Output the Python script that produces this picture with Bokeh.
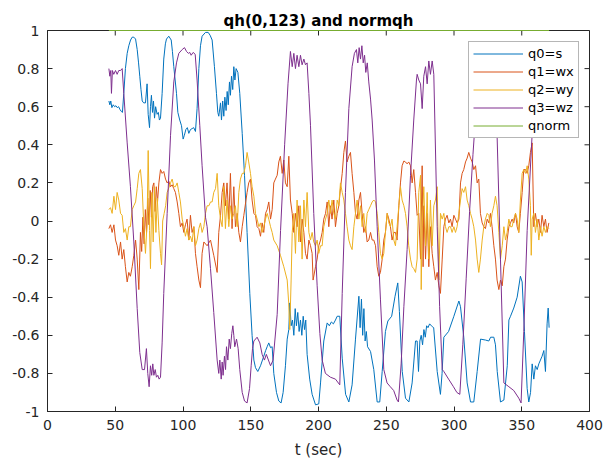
from bokeh.plotting import figure
from bokeh.models import FixedTicker, Range1d, Legend, LegendItem
from bokeh.embed import file_html
from bokeh.resources import INLINE

# ---------------- data ----------------
q0_t = [45.3, 46.0, 46.7, 47.5, 48.5, 49.5, 50.5, 51.5, 52.5, 53.5, 54.5, 55.3, 56.3, 57.5, 58.8, 60.0,
        61.3, 62.5, 63.7, 65.0, 66.2, 67.2, 68.1, 69.0, 69.9, 71.0, 72.3, 73.5, 74.3, 75.3, 76.0, 76.7,
        77.5, 78.2, 79.0, 79.8, 80.9, 81.8, 82.6, 83.4, 84.6, 85.8, 87.0, 87.8, 89.5, 91.3, 92.2, 93.2,
        94.2, 95.2, 96.2, 97.6, 98.9, 100.1, 101.0, 102.1, 103.2, 104.3, 105.5, 106.7, 107.9, 109.2,
        110.4, 111.7, 112.9, 114.1, 116.6, 118.6, 120.0, 121.5, 123.2, 124.7, 125.7, 126.4, 127.7,
        128.4, 129.3, 130.1, 130.9, 131.8, 132.6, 133.4, 134.3, 135.0, 135.8, 136.7, 137.5, 138.3,
        139.2, 140.5, 141.9, 143.7, 145.4, 147.3, 149.3, 151.0, 152.3, 153.5, 155.2, 157.2, 159.6,
        161.0, 162.1, 163.3, 164.6, 165.8, 167.0, 169.0, 170.7, 172.4, 173.9, 175.6, 176.9, 178.1,
        178.8, 179.8, 180.8, 181.8, 182.8, 183.7, 184.7, 185.7, 186.7, 187.7, 188.7, 189.7, 190.6,
        191.6, 193.5, 195.3, 197.8, 200.2, 201.5, 203.9, 206.4, 208.0, 209.5, 211.0, 212.5, 213.8,
        215.7, 217.5, 220.0, 222.4, 224.8, 227.3, 229.8, 230.7, 231.7, 232.6, 233.5, 234.4, 235.3,
        236.2, 238.4, 240.8, 243.3, 245.2, 247.0, 249.4, 251.2, 254.0, 256.5, 258.5, 259.7, 261.8,
        264.2, 266.7, 269.1, 271.6, 272.8, 273.8, 274.8, 275.8, 276.8, 277.8, 278.8, 279.8, 280.8,
        282.0, 284.0, 285.0, 287.6, 290.0, 291.2, 292.5, 296.0, 299.9, 303.6, 304.8, 307.2, 309.7,
        312.2, 314.6, 317.1, 319.6, 323.3, 325.7, 327.0, 329.4, 330.6, 331.9, 334.3, 336.8, 339.3,
        340.5, 341.7, 344.1, 346.6, 349.0, 350.3, 352.0, 354.0, 355.2, 356.5, 357.7, 358.9, 360.1,
        361.4, 362.6, 363.8, 365.0, 366.3, 367.5, 368.7, 369.5, 370.2]
q0 = [0.63, 0.61, 0.63, 0.595, 0.61, 0.60, 0.605, 0.595, 0.60, 0.585, 0.575, 0.57, 0.67, 0.80, 0.88, 0.92,
      0.95, 0.965, 0.965, 0.955, 0.90, 0.83, 0.76, 0.69, 0.63, 0.62, 0.62, 0.72, 0.56, 0.49, 0.60, 0.66,
      0.57, 0.63, 0.54, 0.60, 0.56, 0.57, 0.53, 0.54, 0.67, 0.85, 0.93, 0.955, 0.97, 0.95, 0.89, 0.81,
      0.74, 0.67, 0.57, 0.53, 0.50, 0.43, 0.45, 0.48, 0.49, 0.46, 0.48, 0.485, 0.49, 0.47,
      0.59, 0.80, 0.92, 0.97, 0.99, 0.99, 0.975, 0.95, 0.81, 0.67, 0.57, 0.55, 0.62,
      0.53, 0.63, 0.55, 0.65, 0.58, 0.68, 0.61, 0.73, 0.66, 0.76, 0.69, 0.81, 0.74,
      0.80, 0.78, 0.67, 0.46, 0.24, -0.06, -0.38, -0.60, -0.73, -0.77, -0.79, -0.76, -0.71,
      -0.68, -0.66, -0.64, -0.665, -0.66, -0.80, -0.90, -0.945, -0.955, -0.90, -0.76, -0.62, -0.57,
      -0.43, -0.55, -0.52, -0.60, -0.46, -0.55, -0.48, -0.58, -0.52, -0.60, -0.50, -0.57, -0.52,
      -0.70, -0.83, -0.91, -0.965, -0.96, -0.85, -0.63, -0.535, -0.55, -0.53, -0.54, -0.52, -0.50,
      -0.50, -0.72, -0.91, -0.95, -0.86, -0.62, -0.395, -0.56, -0.41, -0.60, -0.46, -0.63, -0.58,
      -0.66, -0.685, -0.78, -0.95, -0.95, -0.79, -0.58, -0.525, -0.50, -0.395, -0.325, -0.475, -0.79,
      -0.93, -0.95, -0.85, -0.63, -0.63, -0.79, -0.63, -0.60, -0.65, -0.57, -0.61, -0.55, -0.56,
      -0.54, -0.555, -0.56, -0.79, -0.91, -0.80, -0.61, -0.58, -0.50, -0.42, -0.45, -0.61, -0.85,
      -0.95, -0.95, -0.79, -0.62, -0.625, -0.63, -0.61, -0.61, -0.65, -0.79, -0.95, -0.94, -0.76,
      -0.52, -0.50, -0.457, -0.40, -0.29, -0.32, -0.58, -0.88, -0.95, -0.90, -0.75, -0.83, -0.76,
      -0.78, -0.75, -0.73, -0.71, -0.68, -0.79, -0.54, -0.457, -0.56]

q1_t = [45.3, 46.5, 47.7, 49.0, 50.2, 51.4, 52.6, 53.9, 55.1, 56.3, 57.5, 58.8, 60.0, 61.2, 62.5, 63.7,
        65.0, 66.2, 67.4, 68.6, 69.5, 70.4, 71.3, 72.2, 73.1, 74.0, 74.9, 75.8, 76.7, 77.6, 78.5, 79.4,
        80.3, 81.2, 82.2, 83.4, 84.6, 85.8, 87.1, 88.3, 89.5, 90.8, 92.0, 93.2, 94.4, 95.7, 96.9, 98.1,
        99.4, 100.6, 101.8, 103.0, 104.3, 105.5, 106.7, 108.0, 109.2, 110.4, 111.7, 112.9, 114.1,
        115.4, 117.8, 120.3, 122.7, 125.2, 126.4, 127.7, 128.9, 130.1, 131.3, 132.5, 133.8, 135.0,
        136.2, 137.5, 138.7, 140.0, 141.2, 142.4, 143.7, 144.9, 147.3, 148.5, 149.8, 151.0, 152.3,
        153.5, 154.7, 156.0, 157.2, 158.4, 159.6, 160.9, 162.1, 163.3, 164.6, 165.8, 167.0, 168.2,
        169.5, 170.7, 171.9, 173.2, 174.4, 175.6, 176.9, 178.1, 179.3, 180.6, 181.8, 183.0, 184.2,
        185.5, 186.7, 187.9, 189.2, 190.4, 191.6, 192.9, 194.1, 195.3, 196.0, 197.8, 199.0, 200.2,
        201.5, 202.7, 203.9, 205.2, 206.4, 207.6, 208.8, 210.0, 211.3, 212.5, 213.8, 215.0, 216.2,
        217.5, 218.7, 219.9, 221.1, 222.4, 223.6, 224.8, 226.1, 227.3, 228.5, 229.8, 231.0, 232.2,
        233.4, 234.7, 235.9, 237.1, 238.4, 239.6, 240.8, 242.1, 243.3, 244.5, 245.7, 247.0, 248.2,
        249.4, 250.7, 251.9, 253.1, 254.3, 255.6, 256.8, 258.0, 259.3, 260.5, 261.7, 263.0, 264.2,
        265.4, 266.6, 267.9, 269.1, 270.3, 271.6, 272.8, 274.0, 275.3, 276.5, 277.2, 277.7, 279.0,
        280.2, 281.4, 282.6, 283.9, 285.1, 286.3, 287.6, 288.8, 290.0, 291.3, 292.5, 293.7, 294.9,
        296.2, 297.4, 298.6, 299.9, 301.1, 302.3, 303.6, 304.8, 306.0, 307.2, 308.5, 309.7, 310.9,
        312.2, 313.4, 314.6, 315.9, 317.1, 318.3, 319.5, 320.8, 322.0, 323.2, 324.5, 325.7, 326.9,
        328.1, 329.4, 330.6, 331.8, 333.1, 334.3, 335.6, 336.8, 338.0, 339.2, 340.5, 341.7, 342.9,
        344.1, 345.4, 346.6, 347.8, 349.0, 350.3, 351.5, 352.8, 354.0, 355.2, 356.4, 357.7, 358.9,
        360.1, 361.4, 362.6, 363.8, 365.0, 366.3, 367.5, 368.7, 370.0]
q1 = [-0.04, -0.02, -0.06, -0.02, -0.10, -0.13, -0.18, -0.11, -0.20, -0.15, -0.24, -0.32, -0.27, -0.29, -0.24, -0.18,
      -0.10, -0.20, -0.36, -0.06, -0.16, 0.02, -0.12, 0.06, -0.06, 0.12, -0.02, 0.16, 0.02, 0.18, 0.20, 0.05,
      0.18, 0.10, 0.20, 0.27, 0.25, 0.26, 0.22, 0.20, 0.21, 0.18, 0.19, 0.17, 0.15, 0.10, 0.04, -0.03,
      -0.01, -0.06, -0.02, 0.01, -0.10, 0.03, -0.06, -0.03, -0.17, -0.24, -0.31, -0.35, -0.17,
      -0.11, -0.13, -0.10, -0.18, -0.27, -0.06, 0.03, 0.15, 0.20, 0.08, 0.20, 0.01, 0.25,
      -0.04, 0.18, -0.03, 0.04, -0.06, -0.11, -0.03, 0.03, 0.15, 0.20, 0.22, 0.11, 0.04,
      0.03, -0.03, -0.04, -0.08, -0.01, -0.06, 0.04, 0.06, 0.10, 0.01, 0.06, 0.20, 0.22,
      0.24, 0.31, 0.34, 0.25, 0.32, 0.20, 0.18, 0.34, 0.11, 0.04, -0.06, 0.04, -0.03,
      0.08, -0.11, 0.01, -0.06, -0.17, -0.20, -0.10, -0.13, -0.17, -0.31, -0.24, -0.20, -0.13,
      -0.10, -0.06, 0.01, 0.04, 0.10, -0.03, 0.08, 0.01, 0.11, -0.03, 0.04, 0.08, 0.17,
      0.25, 0.36, 0.42, 0.31, 0.34, 0.36, 0.25, 0.15, 0.04, 0.01, 0.11, 0.15, 0.04,
      -0.06, -0.03, -0.11, -0.10, -0.06, -0.10, -0.10, -0.13, -0.24, -0.29, -0.27, -0.20, -0.10,
      -0.06, 0.04, 0.01, -0.03, -0.10, -0.06, -0.06, -0.10, 0.08, 0.20, 0.29, 0.315, 0.31,
      0.30, 0.31, 0.29, 0.20, 0.27, 0.15, 0.03, 0.04, -0.20, 0.29, -0.24, 0.08, -0.20,
      0.04, -0.24, -0.03, -0.17, -0.24, -0.31, -0.27, -0.34, -0.38, -0.20, -0.03, 0.01, 0.03,
      -0.01, 0.01, -0.03, 0.03, 0.01, -0.01, 0.01, 0.20, 0.25, 0.27, 0.31, 0.33, 0.36,
      0.33, 0.31, 0.27, 0.29, 0.20, 0.22, 0.04, -0.01, -0.03, -0.04, 0.01, -0.01, 0.04,
      -0.03, -0.13, -0.20, -0.31, -0.36, -0.31, -0.34, -0.24, -0.20, -0.10, -0.03, -0.01, 0.01,
      -0.01, 0.04, -0.03, -0.06, 0.04, 0.15, 0.27, 0.27, 0.25, 0.29, 0.36, 0.41, -0.03,
      0.04, -0.03, 0.01, -0.06, 0.03, -0.03, 0.01, -0.06, -0.01]

q2_t = [45.3, 46.5, 47.7, 49.0, 50.2, 51.4, 52.6, 53.9, 55.1, 56.3, 57.5, 58.8, 60.0, 61.2, 62.5, 63.7,
        65.0, 66.2, 67.4, 68.6, 69.9, 71.1, 72.3, 73.5, 74.3, 75.3, 76.0, 77.0, 78.0, 79.0, 80.0, 81.0,
        82.2, 83.4, 84.2, 85.0, 86.1, 87.2, 88.3, 90.8, 92.0, 93.2, 94.4, 95.7, 96.9, 98.1, 99.4,
        100.6, 101.8, 103.0, 104.3, 105.5, 106.7, 108.0, 109.2, 110.4, 111.7, 112.9, 114.1, 115.4,
        116.6, 117.8, 119.1, 120.3, 121.5, 122.7, 124.0, 125.2, 126.4, 127.7, 128.9, 130.1, 131.3,
        132.5, 133.8, 135.0, 136.2, 137.5, 138.7, 140.0, 141.2, 142.4, 143.7, 144.9, 146.1, 147.3,
        148.5, 149.8, 151.0, 152.3, 153.5, 154.7, 156.0, 157.2, 158.4, 159.6, 160.9, 162.1, 163.3,
        164.6, 165.8, 167.0, 169.5, 171.9, 174.4, 176.9, 178.0, 178.8, 179.8, 180.6, 181.8, 183.0,
        184.2, 185.5, 186.7, 187.9, 189.2, 190.4, 191.6, 192.9, 194.1, 195.3, 196.5, 197.8, 199.0,
        200.2, 201.5, 202.7, 203.9, 205.2, 206.4, 207.6, 208.8, 210.0, 211.3, 212.5, 213.8, 215.0,
        216.2, 217.5, 218.7, 219.9, 221.1, 222.4, 223.6, 224.8, 226.1, 227.3, 228.5, 229.8, 231.0,
        232.2, 233.4, 234.7, 235.9, 237.1, 238.4, 239.6, 240.8, 242.1, 243.3, 244.5, 245.7, 247.0,
        248.2, 249.4, 250.7, 251.9, 253.1, 254.3, 255.6, 256.8, 258.0, 259.3, 260.5, 261.7, 263.0,
        264.2, 265.4, 266.6, 267.9, 269.1, 270.3, 271.6, 272.8, 274.0, 275.3, 275.8, 276.5, 277.7,
        279.0, 280.2, 281.4, 282.6, 283.9, 285.1, 286.3, 287.6, 288.8, 290.0, 291.3, 292.5, 293.7,
        294.9, 296.2, 297.4, 298.6, 299.9, 301.1, 302.3, 303.6, 304.8, 306.0, 307.2, 308.5, 309.7,
        310.9, 312.2, 313.4, 314.6, 315.9, 317.1, 318.3, 319.5, 320.8, 322.0, 323.2, 324.5, 325.7,
        326.9, 328.1, 329.4, 330.6, 331.8, 333.1, 334.3, 335.6, 336.8, 338.0, 339.2, 340.5, 341.7,
        342.9, 344.1, 345.4, 346.6, 347.8, 349.0, 350.3, 351.5, 352.8, 354.0, 355.2, 356.4, 357.0,
        357.7, 358.9, 360.1, 361.4, 362.6, 363.8, 365.0, 366.3, 367.5, 368.7, 370.0]
q2 = [0.06, 0.07, 0.04, 0.13, 0.06, 0.15, 0.11, 0.04, 0.03, -0.06, -0.04, -0.10, -0.03, -0.03, 0.06, 0.08,
      0.10, 0.17, 0.25, 0.27, 0.17, -0.03, -0.17, -0.01, 0.37, -0.05, -0.25, 0.15, -0.11, 0.18, -0.06, 0.12,
      -0.05, -0.17, -0.23, 0.00, 0.04, 0.08, 0.15, 0.20, 0.22, 0.18, 0.18, 0.20, 0.15, 0.10, 0.01,
      -0.03, -0.08, -0.04, -0.10, -0.08, -0.11, -0.03, -0.13, -0.10, -0.04, -0.01, -0.06, -0.03,
      0.04, 0.08, 0.08, 0.10, 0.10, 0.15, 0.17, 0.25, 0.08, 0.01, -0.03, 0.18, -0.04,
      0.11, -0.03, 0.08, 0.01, 0.04, 0.08, -0.03, 0.15, 0.22, 0.25, 0.25, 0.29, 0.36,
      0.31, 0.25, 0.18, 0.13, 0.04, 0.01, -0.03, -0.01, -0.06, -0.03, 0.01, 0.04, 0.01,
      -0.03, -0.06, -0.10, -0.13, -0.18, -0.24, -0.31, -0.43, -0.57, -0.31, -0.06, 0.04, -0.17,
      0.11, -0.11, 0.08, -0.20, 0.11, -0.03, 0.15, -0.06, -0.10, -0.06, -0.11, -0.13, -0.10,
      -0.17, -0.13, -0.13, -0.03, 0.01, 0.04, 0.11, 0.04, 0.11, 0.04, 0.01, 0.11, 0.08,
      0.20, 0.15, 0.11, 0.04, -0.03, -0.10, -0.13, -0.15, -0.03, 0.04, 0.11, 0.01, 0.08,
      -0.03, 0.04, -0.06, 0.04, 0.06, 0.08, 0.10, 0.11, 0.10, 0.04, -0.06, -0.17, -0.20,
      -0.17, -0.06, 0.04, -0.01, -0.03, 0.01, -0.10, -0.13, -0.03, 0.08, 0.18, 0.11, 0.08,
      0.04, -0.03, -0.13, -0.20, -0.24, -0.25, -0.27, -0.20, 0.15, 0.24, -0.36, -0.03, 0.18,
      -0.13, 0.15, -0.20, 0.11, -0.13, 0.08, 0.11, 0.18, -0.31, 0.04, 0.01, 0.04, -0.03,
      -0.06, -0.03, -0.03, -0.06, -0.03, -0.06, -0.03, 0.04, 0.11, 0.17, 0.15, 0.18, 0.11,
      0.08, 0.04, 0.01, -0.03, -0.10, -0.20, -0.27, -0.20, -0.10, -0.03, 0.01, 0.04, 0.03,
      -0.03, 0.04, 0.08, 0.13, 0.08, -0.06, -0.20, -0.13, -0.03, -0.10, -0.06, 0.01, -0.03,
      -0.03, 0.01, 0.04, 0.01, -0.06, 0.11, 0.25, 0.27, 0.25, 0.29, 0.22, 0.08, -0.18,
      0.01, 0.04, -0.06, 0.01, -0.10, -0.03, -0.08, -0.03, -0.06, -0.03, -0.04]

q3_t = [45.3, 46.0, 46.7, 47.2, 47.9, 48.9, 50.2, 51.4, 52.6, 53.9, 55.1, 56.3, 58.8, 61.2, 63.7, 66.2,
        68.1, 69.9, 71.6, 73.0, 74.0, 75.0, 76.0, 76.9, 77.7, 78.5, 79.5, 80.4, 81.4, 82.4, 83.4,
        84.6, 85.8, 88.3, 90.8, 93.2, 95.2, 96.9, 99.4, 101.1, 102.6, 104.0, 105.0, 106.0, 107.5,
        109.0, 110.4, 112.4, 114.1, 116.6, 117.8, 120.3, 122.7, 125.2, 126.4, 127.2, 128.2, 128.9,
        129.6, 130.6, 131.4, 132.1, 133.1, 134.1, 135.0, 136.0, 136.8, 137.5, 138.2, 139.5, 140.7,
        141.9, 143.7, 145.4, 147.3, 149.1, 150.3, 151.3, 152.3, 154.7, 156.7, 158.4, 160.1, 161.5,
        163.3, 164.6, 166.5, 169.5, 172.0, 175.0, 177.5, 179.3, 180.6, 181.8, 183.0, 184.2, 185.5,
        186.7, 187.9, 189.2, 190.4, 191.6, 192.9, 194.1, 196.5, 199.0, 201.0, 202.7, 205.1, 208.8,
        212.5, 215.7, 217.5, 219.9, 222.4, 224.8, 226.5, 228.0, 229.0, 230.0, 231.0, 232.0, 233.0,
        234.0, 234.9, 236.0, 237.1, 238.4, 239.6, 241.3, 243.3, 245.7, 248.2, 250.6, 253.0, 255.5,
        258.0, 259.0, 261.0, 263.0, 265.4, 267.9, 270.3, 272.3, 272.8, 274.0, 275.3, 276.5, 277.7,
        279.0, 280.2, 281.4, 282.6, 283.9, 285.1, 287.6, 289.4, 291.3, 292.5, 296.0, 299.6, 302.1,
        304.3, 306.5, 309.0, 311.5, 314.0, 316.6, 319.0, 322.0, 325.0, 328.0, 330.0, 331.8, 334.3,
        336.8, 340.5, 344.1, 347.8, 349.5, 351.5, 354.0, 357.7, 360.0, 362.5, 366.0, 370.0]
q3 = [0.80, 0.76, 0.79, 0.67, 0.79, 0.77, 0.79, 0.77, 0.79, 0.79, 0.80, 0.67, 0.41, 0.18, -0.11, -0.46,
      -0.69, -0.78, -0.78, -0.67, -0.80, -0.87, -0.76, -0.81, -0.75, -0.81, -0.78, -0.82, -0.81, -0.83, -0.82,
      -0.64, -0.38, 0.04, 0.45, 0.73, 0.83, 0.88, 0.90, 0.91, 0.89, 0.88, 0.885, 0.87, 0.885,
      0.875, 0.74, 0.50, 0.29, 0.02, -0.03, -0.25, -0.48, -0.73, -0.80, -0.73, -0.83, -0.74,
      -0.81, -0.71, -0.78, -0.66, -0.73, -0.62, -0.67, -0.59, -0.55, -0.60, -0.66, -0.62, -0.67,
      -0.78, -0.90, -0.945, -0.955, -0.88, -0.76, -0.67, -0.63, -0.61, -0.64, -0.70, -0.73, -0.70,
      -0.735, -0.76, -0.73, -0.49, -0.05, 0.40, 0.72, 0.89, 0.81, 0.88, 0.80, 0.87, 0.81,
      0.87, 0.82, 0.85, 0.82, 0.83, 0.67, 0.50, 0.04, -0.34, -0.59, -0.73, -0.80, -0.82,
      -0.83, -0.86, -0.38, 0.15, 0.59, 0.81, 0.88, 0.90, 0.83, 0.91, 0.85, 0.92, 0.83,
      0.87, 0.78, 0.83, 0.73, 0.64, 0.53, 0.32, -0.03, -0.41, -0.78, -0.85, -0.87, -0.89,
      -0.94, -0.95, -0.75, -0.45, -0.15, 0.24, 0.53, 0.74, 0.77, 0.74, 0.72, 0.59, 0.76,
      0.81, 0.72, 0.84, 0.77, 0.84, 0.77, -0.03, -0.45, -0.78, -0.79, -0.83, -0.87, -0.90,
      -0.91, -0.65, -0.30, 0.05, 0.35, 0.62, 0.82, 0.88, 0.86, 0.87, 0.75, 0.45, -0.20,
      -0.85, -0.87, -0.89, -0.93, -0.955, -0.58, -0.05, 0.46, 0.75, 0.84, 0.86, 0.84]

qn_t = [45.3, 370.2]
qnorm = [1.0, 1.0]

x_ticks = [0, 50, 100, 150, 200, 250, 300, 350, 400]
x_tick_labels = ["0", "50", "100", "150", "200", "250", "300", "350", "400"]
y_ticks = [-1, -0.8, -0.6, -0.4, -0.2, 0, 0.2, 0.4, 0.6, 0.8, 1]
y_tick_labels = ["-1", "-0.8", "-0.6", "-0.4", "-0.2", "0", "0.2", "0.4", "0.6", "0.8", "1"]

series_names = ["q0=s", "q1=wx", "q2=wy", "q3=wz", "qnorm"]
series_colors = ["#0072BD", "#D95319", "#EDB120", "#7E2F8E", "#77AC30"]

# ---------------- figure ----------------
FONT = "DejaVu Sans"
AX_COLOR = "#262626"
X0, X1 = x_ticks[0], x_ticks[-1]
Y0, Y1 = y_ticks[0], y_ticks[-1]
W, H = 613, 462
ML, MR, MT, MB = 47, 24, 30, 51
TICK_PX = 5

p = figure(width=W, height=H, x_range=Range1d(X0, X1), y_range=Range1d(Y0, Y1),
           output_backend="svg", toolbar_location=None,
           min_border_left=ML, min_border_right=MR, min_border_top=MT, min_border_bottom=MB,
           background_fill_color="white", border_fill_color="white")
p.outline_line_color = AX_COLOR
p.outline_line_width = 1
p.xgrid.visible = False
p.ygrid.visible = False

p.title.text = "qh(0,123) and normqh"
p.title.align = "center"
p.title.text_font = FONT
p.title.text_font_size = "15px"
p.title.text_font_style = "bold"
p.title.text_color = "#000000"
p.title.standoff = 2
p.title.offset = 0

for ax, ticks, labels in ((p.xaxis[0], x_ticks, x_tick_labels), (p.yaxis[0], y_ticks, y_tick_labels)):
    ax.ticker = FixedTicker(ticks=ticks)
    ax.major_label_overrides = {t: s for t, s in zip(ticks, labels)}
    ax.axis_line_color = AX_COLOR
    ax.axis_line_width = 1
    ax.major_tick_line_color = AX_COLOR
    ax.major_tick_in = TICK_PX
    ax.major_tick_out = 0
    ax.minor_tick_in = 0
    ax.minor_tick_out = 0
    ax.major_label_text_font = FONT
    ax.major_label_text_color = AX_COLOR
    ax.major_label_text_font_size = "14px"
    ax.major_label_standoff = 8

xb = p.xaxis[0]
xb.axis_label = "t (sec)"
xb.axis_label_text_font = FONT
xb.axis_label_text_font_size = "15px"
xb.axis_label_text_font_style = "normal"
xb.axis_label_text_color = AX_COLOR
xb.axis_label_standoff = 8

# inward ticks on the top and right edges of the box (MATLAB "box on")
frame_w = W - ML - MR
frame_h = H - MT - MB
dx_tick = TICK_PX * (X1 - X0) / frame_w
dy_tick = TICK_PX * (Y1 - Y0) / frame_h
p.segment(x0=x_ticks, y0=[Y1] * len(x_ticks), x1=x_ticks, y1=[Y1 - dy_tick] * len(x_ticks),
          line_color=AX_COLOR, line_width=1)
p.segment(x0=[X1] * len(y_ticks), y0=y_ticks, x1=[X1 - dx_tick] * len(y_ticks), y1=y_ticks,
          line_color=AX_COLOR, line_width=1)

# ---------------- lines ----------------
all_t = [q0_t, q1_t, q2_t, q3_t, qn_t]
all_v = [q0, q1, q2, q3, qnorm]
items = []
for name, col, tt, vv in zip(series_names, series_colors, all_t, all_v):
    r = p.line(tt, vv, line_color=col, line_width=1)
    if name == "qnorm":
        r.level = "overlay"
    items.append(LegendItem(label=name, renderers=[r]))

legend = Legend(items=items, location=(421, 273))
legend.label_text_font = FONT
legend.label_text_font_size = "13px"
legend.label_text_color = "#000000"
legend.glyph_width = 50
legend.glyph_height = 15
legend.label_height = 15
legend.label_standoff = 5
legend.spacing = 3
legend.padding = 4
legend.margin = 0
legend.border_line_color = "#6e6e6e"
legend.border_line_width = 1
legend.background_fill_color = "white"
legend.background_fill_alpha = 1.0
p.add_layout(legend, "center")

open("out.html", "w").write(file_html(p, INLINE))
